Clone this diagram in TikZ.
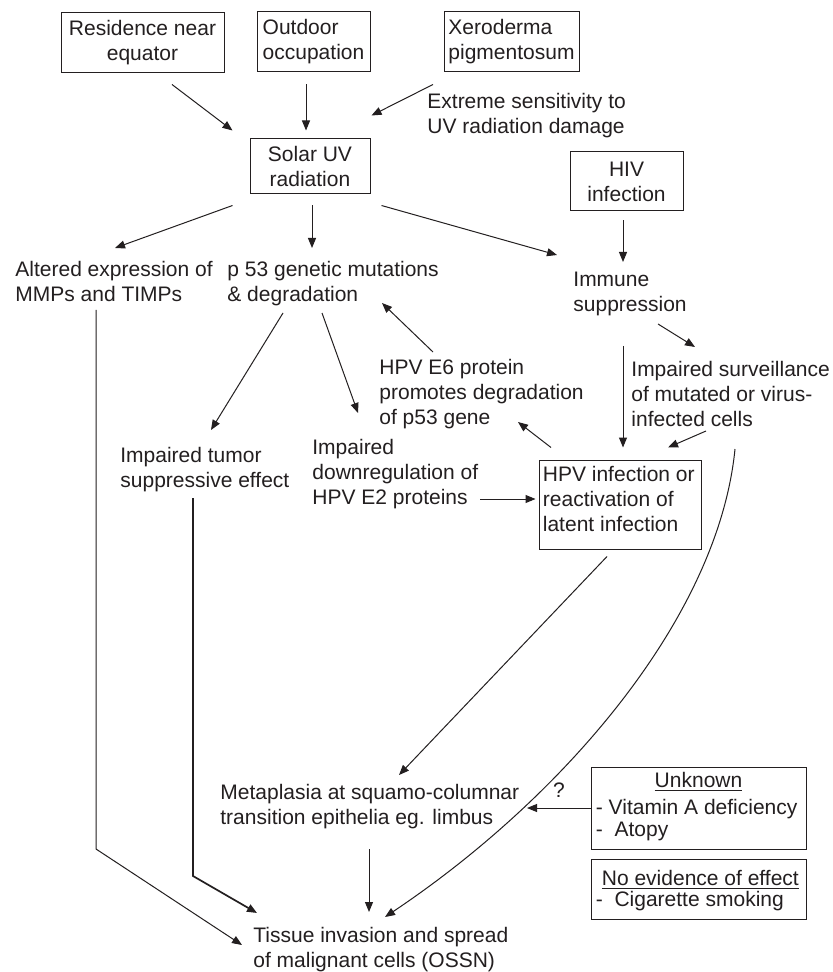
\documentclass[tikz,border=0pt]{standalone}
\usepackage{fontspec}
\setmainfont{Liberation Sans}
\usetikzlibrary{arrows.meta,calc}
\definecolor{ink}{RGB}{35,31,32}
\begin{document}
\begin{tikzpicture}[x=0.5pt,y=-0.5pt,
  every node/.style={text=ink},
  txt/.style={font=\fontsize{10.5}{12.5}\selectfont, inner sep=0pt, align=left, anchor=north west},
  box/.style={draw=ink, line width=0.5pt, font=\fontsize{10.5}{12.5}\selectfont, inner sep=1pt},
  arr/.style={draw=ink, line width=0.5pt, -{Triangle[length=5pt,width=4pt]}},
]
\useasboundingbox[fill=white] (0,0) rectangle (832,972);

% boxes
\node[box, minimum width=81.5pt, minimum height=30pt, align=center] (res) at (142.5,43) {Residence near\\equator};
\node[box, minimum width=56.5pt, minimum height=30pt, align=left] (out) at (313.5,42) {Outdoor\\occupation};
\node[box, minimum width=67.5pt, minimum height=30pt, align=left] (xer) at (511.5,42) {Xeroderma\\pigmentosum};
\node[box, minimum width=60pt, minimum height=27.5pt, align=center] (sol) at (310,166.5) {Solar UV\\radiation};
\node[box, minimum width=56.5pt, minimum height=29.5pt, align=center] (hiv) at (626.5,181.5) {HIV\\infection};
\node[box, minimum width=81pt, minimum height=44.5pt] (hpv) at (620,504.5) {};
\node[txt] (hpvt) at ($(hpv.north west)+(4,4.5)$) {\strut HPV infection or\\reactivation of\\latent infection};
\node[box, minimum width=107.5pt, minimum height=41pt] (unk) at (698.5,808) {};
\node[txt, anchor=base] (unkh) at ($(unk.north)+(0,21)$) {\underline{Unknown}};
\node[txt, anchor=base west] (unka) at ($(unk.north west)+(5,48)$) {- Vitamin A deficiency};
\node[txt, anchor=base west] (unkb) at ($(unk.north west)+(5,70)$) {- \ Atopy};
\node[box, minimum width=107.5pt, minimum height=30pt] (noev) at (698.5,889) {};
\node[txt, anchor=base west] (noevh) at ($(noev.north west)+(11,27)$) {\underline{No evidence of effect}};
\node[txt, anchor=base west] (noeva) at ($(noev.north west)+(5,48)$) {- \ Cigarette smoking};

% free text nodes
\node[txt] (ext) at (427,90.5) {\strut Extreme sensitivity to\\UV radiation damage};
\node[txt] (alt) at (15,258.5) {\strut Altered expression of\\MMPs and TIMPs};
\node[txt] (p53) at (227,258.5) {\strut p 53 genetic mutations\\\& degradation};
\node[txt] (imm) at (573,268.5) {\strut Immune\\suppression};
\node[txt] (e6) at (379,356.5) {\strut HPV E6 protein\\promotes degradation\\of p53 gene};
\node[txt] (surv) at (631,358.5) {\strut Impaired surveillance\\of mutated or virus-\\infected cells};
\node[txt] (tum) at (120,444.5) {\strut Impaired tumor\\suppressive effect};
\node[txt] (e2) at (312,436.5) {\strut Impaired\\downregulation of\\HPV E2 proteins};
\node[txt] (meta) at (220,781.5) {\strut Metaplasia at squamo-columnar\\transition epithelia eg. limbus};
\node[txt] (tis) at (253,924.5) {\strut Tissue invasion and spread\\of malignant cells (OSSN)};
\node[txt, anchor=base] (q) at (559,797) {?};

% connectors
\draw[arr] ($(res.south)+(29.5,11)$) -- ($(sol.north west)+(-17,-8)$);
\draw[arr] ($(out.south)+(-7.5,12)$) -- ($(sol.north)+(-4,-8)$);
\draw[arr] ($(xer.south)+(-78.5,12)$) -- ($(sol.north east)+(1,-23)$);
\draw[arr] ($(sol.south west)+(-17,11)$) -- ($(alt.north west)+(100,-10.5)$);
\draw[arr] ($(sol.south)+(2,11)$) -- ($(p53.north west)+(85,-10.5)$);
\draw[arr] ($(sol.south east)+(11,11)$) -- ($(imm.north west)+(-16,-13.5)$);
\draw[arr] ($(hiv.south)+(-3.5,9)$) -- ($(imm.north west)+(50,-6.5)$);
\draw[arr] ($(alt.north west)+(81,51.5)$) -- ++(0,539) -- ($(tis.north west)+(-11,20.5)$);
\draw[arr] ($(p53.north west)+(56,54.5)$) -- ($(tum.north west)+(91,-14.5)$);
\draw[arr] ($(p53.north west)+(95,54.5)$) -- ($(e2.north west)+(46,-23.5)$);
\draw[arr] ($(e6.north west)+(54,-4.5)$) -- ($(p53.north west)+(155,44.5)$);
\draw[arr] ($(imm.north west)+(85,55.5)$) -- ($(surv.north west)+(64,-11.5)$);
\draw[arr] ($(imm.north west)+(50,77.5)$) -- ($(hpv.north)+(3,-12)$);
\draw[arr] ($(surv.north west)+(75,72.5)$) -- ($(hpv.north)+(48,-12)$);
\draw[arr] ($(hpv.north)+(-69,-12)$) -- ($(e6.north west)+(139,65.5)$);
\draw[arr] ($(e2.north west)+(168,62.5)$) -- ($(hpv.west)+(-3,-5.5)$);
\draw[arr, line width=0.85pt] ($(tum.north west)+(73,53.5)$) -- ++(0,378) -- ($(tis.north west)+(4,-11.5)$);
\draw[arr] ($(hpv.south)+(-13,7)$) -- ($(meta.north west)+(179,-6.5)$);
\draw[arr] ($(surv.north west)+(104,90.5)$) .. controls +(-17,171) and +(175,-117) .. ($(tis.north west)+(132,-7.5)$);
\draw[arr] ($(meta.north west)+(149,67.5)$) -- ($(tis.north west)+(116,-12.5)$);
\draw[arr] (unk.west) -- ($(meta.north west)+(307,26.5)$);
\end{tikzpicture}
\end{document}
